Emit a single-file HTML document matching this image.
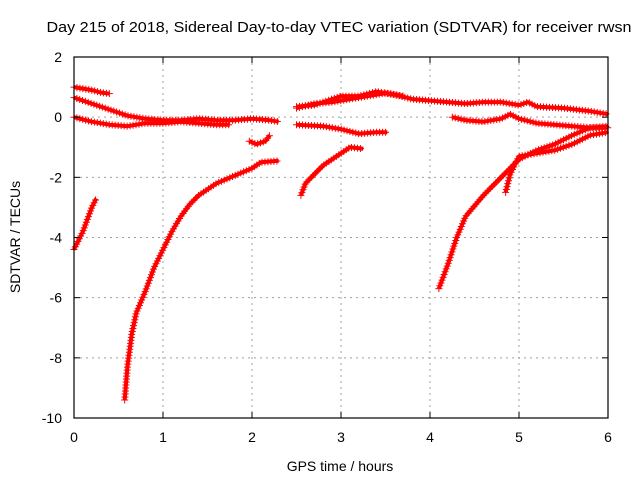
<!DOCTYPE html>
<html><head><meta charset="utf-8"><style>
body{margin:0;background:#fff}
svg{display:block;font-family:"Liberation Sans",Arial,sans-serif}
</style></head><body>
<svg id="chart" width="640" height="480">
<text x="339" y="32" text-anchor="middle" font-size="15" textLength="585" lengthAdjust="spacingAndGlyphs">Day 215 of 2018, Sidereal Day-to-day VTEC variation (SDTVAR) for receiver rwsn</text>
<text x="340" y="471" text-anchor="middle" font-size="14">GPS time / hours</text>
<text transform="translate(20,237) rotate(-90)" text-anchor="middle" font-size="14">SDTVAR / TECUs</text>
<g id="grid"></g><g id="marks"></g><g id="axes"></g>
</svg>
<script>
const xTicks=[0,1,2,3,4,5,6];
const yTicks=[2,0,-2,-4,-6,-8,-10];
const sA=[[0,1.0],[0.1,0.95],[0.2,0.9],[0.3,0.82],[0.4,0.78]];
const sB=[[0,0.65],[0.2,0.45],[0.4,0.25],[0.6,0.05],[0.8,-0.05],[1.0,-0.1],[1.2,-0.1],[1.4,-0.05],[1.6,-0.1],[1.8,-0.1],[2.0,-0.05],[2.2,-0.1],[2.3,-0.15]];
const sC=[[0,0],[0.2,-0.15],[0.4,-0.25],[0.6,-0.3],[0.8,-0.2],[1.0,-0.2],[1.2,-0.15],[1.4,-0.2],[1.6,-0.25],[1.75,-0.25]];
const sDip=[[1.97,-0.8],[2.05,-0.9],[2.15,-0.8],[2.2,-0.6]];
const sRise1=[[0.57,-9.4],[0.6,-8.3],[0.65,-7.2],[0.7,-6.5],[0.8,-5.8],[0.9,-5.0],[1.0,-4.4],[1.1,-3.8],[1.2,-3.3],[1.3,-2.9],[1.4,-2.6],[1.5,-2.4],[1.6,-2.2],[1.8,-1.95],[2.0,-1.7],[2.1,-1.5],[2.3,-1.45]];
const sLeft=[[0,-4.4],[0.1,-3.8],[0.2,-3.0],[0.25,-2.7]];
const sTop=[[2.5,0.35],[2.7,0.4],[2.9,0.6],[3.0,0.7],[3.2,0.7],[3.4,0.85],[3.6,0.75],[3.8,0.6],[4.0,0.55],[4.2,0.5],[4.4,0.45],[4.6,0.5],[4.8,0.5],[5.0,0.4],[5.1,0.5],[5.2,0.35],[5.5,0.3],[5.8,0.2],[6.0,0.1]];
const sTop2=[[2.5,0.3],[2.7,0.45],[2.9,0.5],[3.1,0.6],[3.3,0.7],[3.5,0.8],[3.7,0.7]];
const sMid=[[2.5,-0.25],[2.8,-0.3],[3.0,-0.4],[3.2,-0.55],[3.4,-0.5],[3.52,-0.5]];
const sRise2=[[2.55,-2.6],[2.6,-2.2],[2.7,-1.9],[2.8,-1.6],[2.9,-1.4],[3.0,-1.2],[3.1,-1.0],[3.25,-1.05]];
const sRight=[[4.25,0],[4.4,-0.1],[4.6,-0.15],[4.8,-0.05],[4.9,0.1],[5.0,-0.05],[5.2,-0.2],[5.4,-0.25],[5.6,-0.3],[5.8,-0.35],[6.0,-0.35]];
const sRise3=[[4.1,-5.7],[4.2,-4.9],[4.3,-4.0],[4.4,-3.3],[4.6,-2.6],[4.8,-2.0],[5.0,-1.4],[5.2,-1.1],[5.4,-0.9],[5.6,-0.6],[5.8,-0.35],[6.0,-0.3]];
const sRise4=[[4.85,-2.5],[4.9,-1.9],[5.0,-1.3],[5.2,-1.2],[5.4,-1.1],[5.6,-0.9],[5.8,-0.6],[6.0,-0.5]];
const series=[sA,sB,sC,sDip,sRise1,sLeft,sTop,sTop2,sMid,sRise2,sRight,sRise3,sRise4];
const NS='http://www.w3.org/2000/svg';
const X0=74,X1=608,Y0=57,Y1=418;
const xs=t=>X0+(t-0)/6*(X1-X0);
const ys=v=>Y0+(2-v)/12*(Y1-Y0);
function mk(tag,at,parent){const e=document.createElementNS(NS,tag);for(const k in at)e.setAttribute(k,at[k]);parent.appendChild(e);return e;}
const grid=document.getElementById('grid'),axes=document.getElementById('axes'),marks=document.getElementById('marks');
xTicks.forEach(t=>{
 if(t>0&&t<6){const g=mk('line',{x1:xs(t),x2:xs(t),y1:Y0,y2:Y1,stroke:'#a0a0a0','stroke-dasharray':'2,4'},grid);
 
 }
 mk('line',{x1:xs(t),x2:xs(t),y1:Y1,y2:Y1-6,stroke:'#000'},axes);
 mk('line',{x1:xs(t),x2:xs(t),y1:Y0,y2:Y0+6,stroke:'#000'},axes);
 const l=mk('text',{x:xs(t),y:Y1+24,'text-anchor':'middle','font-size':14},axes);l.textContent=t;
 
 
});
yTicks.forEach(v=>{
 if(v<2&&v>-10){const g=mk('line',{x1:X0,x2:X1,y1:ys(v),y2:ys(v),stroke:'#a0a0a0','stroke-dasharray':'2,4'},grid);
 
 }
 mk('line',{x1:X0,x2:X0+6,y1:ys(v),y2:ys(v),stroke:'#000'},axes);
 mk('line',{x1:X1,x2:X1-6,y1:ys(v),y2:ys(v),stroke:'#000'},axes);
 const l=mk('text',{x:X0-12,y:ys(v)+5,'text-anchor':'end','font-size':14},axes);l.textContent=v;
 
 
});
const fr=mk('rect',{x:X0,y:Y0,width:X1-X0,height:Y1-Y0,fill:'none',stroke:'#000','stroke-width':1.2},axes);


series.forEach((s,i)=>{
 const d=s.map((p,j)=>(j?'L':'M')+xs(p[0]).toFixed(1)+' '+ys(p[1]).toFixed(1)).join(' ');
 const pl=mk('path',{d:d,fill:'none',stroke:'#f00','stroke-width':4,'stroke-linejoin':'round'},marks);
 
 
 const L=pl.getTotalLength();
 for(let k=0;k<=L;k+=3){const p=pl.getPointAtLength(k);
  mk('path',{d:`M${p.x-3.5} ${p.y}h7M${p.x} ${p.y-3.5}v7`,stroke:'#f00','stroke-width':1},marks);}
});
</script>
</body></html>
